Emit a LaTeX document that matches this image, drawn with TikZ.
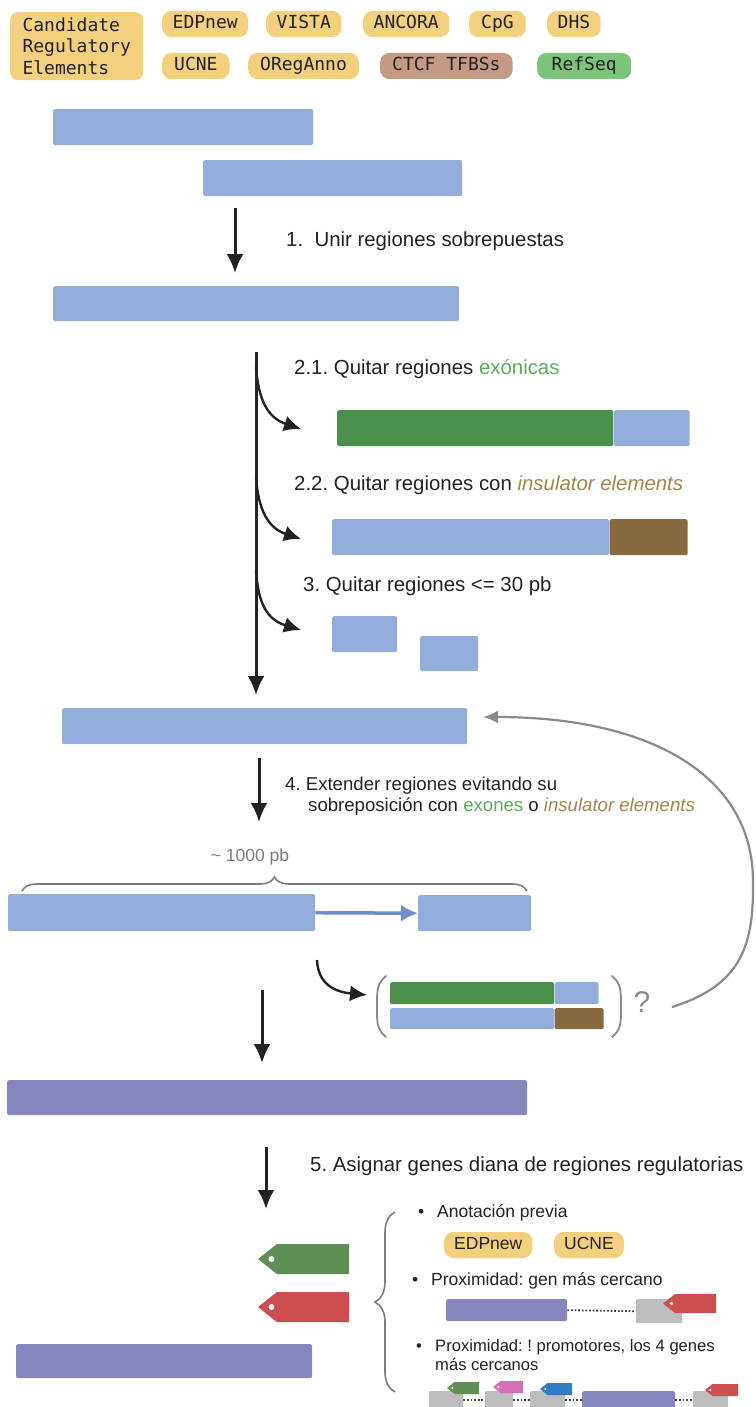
\documentclass[tikz,border=0pt]{standalone}
\usepackage{fontspec}
\setmainfont{Liberation Sans}
\newfontfamily\pillfont{DejaVu Sans Mono}
\usetikzlibrary{arrows.meta,decorations.pathreplacing}
\frenchspacing

\definecolor{regblue}{HTML}{93ADDA}
\definecolor{exongreen}{HTML}{4A8F4A}
\definecolor{insbrown}{HTML}{86693F}
\definecolor{mergepurple}{HTML}{8785BD}
\definecolor{candyellow}{HTML}{F2D07E}
\definecolor{ctcfbrown}{HTML}{C49A84}
\definecolor{refgreen}{HTML}{7CC47A}
\definecolor{exontext}{HTML}{5DAA5D}
\definecolor{instext}{HTML}{A5824F}
\definecolor{inkgray}{HTML}{222222}
\definecolor{linegray}{HTML}{8A8A8A}
\definecolor{genegray}{HTML}{BDBDBD}
\definecolor{extblue}{HTML}{6F8DCB}
\definecolor{taggreen}{HTML}{5F8F55}
\definecolor{tagred}{HTML}{CC4E4E}
\definecolor{tagpink}{HTML}{D56DB8}
\definecolor{tagblue}{HTML}{2F7FC6}

\tikzset{
  region/.style={fill=regblue, rounded corners=1.5pt, inner sep=0pt, anchor=north west, minimum height=36pt},
  exonpart/.style={region, fill=exongreen},
  inspart/.style={region, fill=insbrown},
  merged/.style={region, fill=mergepurple},
  gene/.style={region, fill=genegray, rounded corners=1pt},
  candbox/.style={fill=candyellow, rounded corners=8pt, anchor=north west, align=left,
    minimum width=133pt, minimum height=68pt, inner xsep=12pt, text=inkgray,
    font=\pillfont\fontsize{18}{21.5}\selectfont},
  pill/.style={fill=candyellow, rounded corners=9pt, anchor=west, minimum height=26pt,
    inner xsep=10.5pt, inner ysep=0pt, text height=13pt, text depth=4pt, text=inkgray,
    font=\pillfont\fontsize{18}{21}\selectfont},
  sanspill/.style={pill, font=\fontsize{17.5}{20}\selectfont, inner xsep=10pt},
  steptext/.style={anchor=base west, inner sep=0pt, text=inkgray, font=\fontsize{20.4}{22}\selectfont},
  bullettext/.style={anchor=base west, inner sep=0pt, text=inkgray, align=left, font=\fontsize{17.5}{19}\selectfont},
  note/.style={inner sep=0pt, text=linegray!90!black, font=\fontsize{17.5}{20}\selectfont},
  flow/.style={-{Latex[length=19pt,width=17pt]}, line width=3pt, draw=inkgray},
  branch/.style={-{Latex[length=17pt,width=16pt]}, line width=2.4pt, draw=inkgray},
  back/.style={-{Latex[length=15pt,width=13pt]}, line width=2.2pt, draw=linegray},
  extend/.style={-{Latex[length=17pt,width=17pt]}, line width=3.5pt, draw=extblue},
  paren/.style={draw=linegray, line width=1.8pt, line cap=round},
  bracegray/.style={draw=linegray!90!black, line width=1.6pt, decorate},
  dots/.style={draw=inkgray!85, line width=1.8pt, dash pattern=on 1.8pt off 1.8pt}
}

% gene tag: left x, top y, width, height, colour
\newcommand{\genetag}[5]{%
  \fill[#5] (#1,{#2+#4/2}) -- ({#1+0.63*#4},#2) -- ({#1+#3},#2) -- ({#1+#3},{#2+#4})
    -- ({#1+0.63*#4},{#2+#4}) -- cycle;
  \fill[white] ({#1+0.45*#4},{#2+#4/2}) circle ({0.1*#4});
}

\begin{document}
\begin{tikzpicture}[x=1pt,y=-1pt]
  \useasboundingbox (0,0) rectangle (755,1407);

  % sources
  \node[candbox] (cand) at (10,12) {Candidate\\Regulatory\\Elements};
  \node[pill] (edp) at (162,24) {EDPnew};
  \node[pill] (vista) at (266,24) {VISTA};
  \node[pill] (ancora) at (363,24) {ANCORA};
  \node[pill, inner xsep=12pt] (cpg) at (469,24) {CpG};
  \node[pill] (dhs) at (547,24) {DHS};
  \node[pill, inner xsep=12pt] (ucne) at (162,66) {UCNE};
  \node[pill, inner xsep=12pt] (oreg) at (248,66) {ORegAnno};
  \node[pill, fill=ctcfbrown, inner xsep=12pt] (ctcf) at (380,66) {CTCF TFBSs};
  \node[pill, fill=refgreen, inner xsep=14.5pt] (refseq) at (537,66) {RefSeq};

  % 1. merge overlapping regions
  \node[region, minimum width=260pt] (r1) at (53,109) {};
  \node[region, minimum width=259pt] (r2) at (203,160) {};
  \coordinate (a1s) at (235,208);
  \coordinate (a1e) at (235,273);
  \draw[flow] (a1s) -- (a1e);
  \node[steptext] (t1) at (286,246) {1.\ \ Unir regiones sobrepuestas};
  \node[region, minimum width=406pt, minimum height=35pt] (r3) at (53,286) {};

  % 2. and 3. removals
  \coordinate (m0) at (256,352);
  \coordinate (m1) at (256,695);
  \draw[flow] (m0) -- (m1);
  \coordinate (br1) at (256,366);
  \coordinate (br2) at (256,476);
  \coordinate (br3) at (256,570);
  \coordinate (tip1) at (301,429);
  \coordinate (tip2) at (301,539);
  \coordinate (tip3) at (301,630);
  \draw[branch] (br1) .. controls (258,400) and (268,418) .. (tip1);
  \draw[branch] (br2) .. controls (258,510) and (268,528) .. (tip2);
  \draw[branch] (br3) .. controls (258,605) and (268,620) .. (tip3);

  \node[steptext] (t21) at (294,374) {2.1. Quitar regiones \textcolor{exontext}{exónicas}};
  \node[exonpart, minimum width=276pt] (ex1) at (337,410) {};
  \node[region, minimum width=76pt] (ex1r) at (ex1.north east) {};

  \node[steptext] (t22) at (294,490) {2.2. Quitar regiones con \textcolor{instext}{\itshape insulator elements}};
  \node[region, minimum width=277pt] (in1) at (332,519) {};
  \node[inspart, minimum width=78pt] (in1r) at (in1.north east) {};

  \node[steptext] (t3) at (303,591) {3. Quitar regiones <= 30 pb};
  \node[region, minimum width=65pt] (sm1) at (332,616) {};
  \node[region, minimum width=58pt, minimum height=35pt] (sm2) at (420,636) {};

  \node[region, minimum width=405pt] (r4) at (62,708) {};

  % 4. extension
  \coordinate (a4s) at (259,758);
  \coordinate (a4e) at (259,822);
  \draw[flow] (a4s) -- (a4e);
  \node[steptext, align=left, font=\fontsize{18.6}{21}\selectfont] (t4) at (285,811)
    {4. Extender regiones evitando su\\
    \hspace*{23pt}sobreposición con \textcolor{exontext}{exones} o \textcolor{instext}{\itshape insulator elements}};

  \node[note] (kb) at (250,857) {\textasciitilde\ 1000 pb};
  \draw[bracegray, decoration={brace, amplitude=14pt}] (22,891) -- (527,891);
  \node[region, minimum width=307pt, minimum height=37pt] (e1) at (8,894) {};
  \node[region, minimum width=113pt] (e2) at (418,895) {};
  \draw[extend] (e1.east) -- (e2.west);

  \coordinate (c0) at (317,960);
  \coordinate (c1) at (367,995);
  \draw[branch] (c0) .. controls (318,985) and (336,992) .. (c1);
  \draw[paren] (386,976) .. controls (377,983) and (377,992) .. (377,1004) -- (377,1010)
    .. controls (377,1022) and (377,1030) .. (386,1037);
  \draw[paren] (612,976) .. controls (621,983) and (621,992) .. (621,1004) -- (621,1010)
    .. controls (621,1022) and (621,1030) .. (612,1037);
  \node[exonpart, minimum width=164pt, minimum height=22pt] (q1) at (390,982) {};
  \node[region, minimum width=44pt, minimum height=22pt] (q1r) at (q1.north east) {};
  \node[region, minimum width=164pt, minimum height=21pt] (q2) at (390,1008) {};
  \node[inspart, minimum width=49pt, minimum height=21pt] (q2r) at (q2.north east) {};
  \node[font=\fontsize{30}{30}\selectfont, text=linegray, inner sep=0pt] (qm) at (642,1002) {?};

  \coordinate (fb0) at (672,1007);
  \coordinate (fb1) at (483,717);
  \draw[back] (fb0) .. controls (742,985) and (754,945) .. (753,880)
    .. controls (752,775) and (650,717) .. (fb1);

  \coordinate (a5s) at (262,990);
  \coordinate (a5e) at (262,1063);
  \draw[flow] (a5s) -- (a5e);
  \node[merged, minimum width=520pt, minimum height=35pt] (p1) at (7,1080) {};

  % 5. target genes
  \coordinate (a6s) at (266,1147);
  \coordinate (a6e) at (266,1209);
  \draw[flow] (a6s) -- (a6e);
  \node[steptext] (t5) at (310,1171) {5. Asignar genes diana de regiones regulatorias};

  \genetag{258}{1244}{91}{30}{taggreen}
  \genetag{258}{1292}{91}{30}{tagred}
  \node[merged, minimum width=296pt, minimum height=34pt] (p2) at (16,1344) {};

  \draw[bracegray, decoration={brace, amplitude=20pt}] (395,1392) -- (395,1212);

  \node[bullettext] (b1) at (418,1217) {\makebox[19pt][l]{\textbullet}Anotación previa};
  \node[sanspill] (edp2) at (444,1245) {EDPnew};
  \node[sanspill] (ucne2) at (554,1245) {UCNE};

  \node[bullettext] (b2) at (412,1285) {\makebox[19pt][l]{\textbullet}Proximidad: gen más cercano};
  \node[merged, minimum width=121pt, minimum height=22pt] (near) at (446,1299) {};
  \node[gene, minimum width=46pt, minimum height=24pt] (ngene) at (636,1299) {};
  \draw[dots] (near.east) -- (ngene.west);
  \genetag{663}{1294}{53}{19}{tagred}

  \node[bullettext, font=\fontsize{16.6}{18.5}\selectfont] (b3) at (416,1370)
    {\makebox[19pt][l]{\textbullet}Proximidad: ! promotores, los 4 genes\\
    \hspace*{19pt}más cercanos};
  \node[gene, minimum width=34pt, minimum height=18pt] (g1) at (429,1391) {};
  \node[gene, minimum width=28pt, minimum height=18pt] (g2) at (485,1391) {};
  \node[gene, minimum width=35pt, minimum height=18pt] (g3) at (530,1391) {};
  \node[merged, minimum width=93pt, minimum height=18pt] (pr) at (582,1391) {};
  \node[gene, minimum width=35pt, minimum height=18pt] (g4) at (693,1391) {};
  \draw[dots] (g1.east) -- (g2.west);
  \draw[dots] (g2.east) -- (g3.west);
  \draw[dots] (g3.east) -- (pr.west);
  \draw[dots] (pr.east) -- (g4.west);
  \genetag{447}{1382}{32}{12}{taggreen}
  \genetag{493}{1381}{30}{12}{tagpink}
  \genetag{540}{1383}{32}{12}{tagblue}
  \genetag{705}{1384}{33}{12}{tagred}
\end{tikzpicture}
\end{document}
